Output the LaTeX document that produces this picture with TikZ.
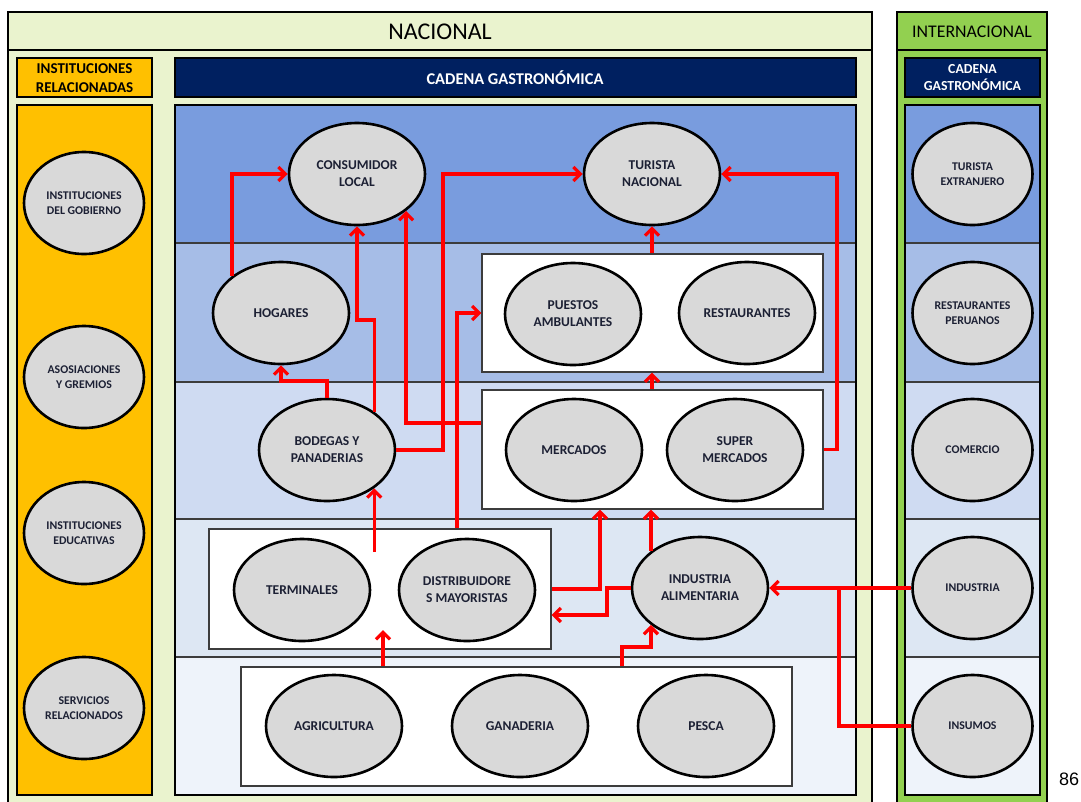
\documentclass[tikz,border=0pt]{standalone}
\usepackage{fontspec}
\setmainfont{Carlito}
\newfontfamily\arialf{Liberation Sans}
\usetikzlibrary{shapes.geometric,arrows.meta}
\definecolor{lgreen}{RGB}{234,243,206}
\definecolor{igreen}{RGB}{146,208,80}
\definecolor{orangec}{RGB}{255,192,0}
\definecolor{navy}{RGB}{0,32,96}
\definecolor{bandA}{RGB}{121,156,222}
\definecolor{bandB}{RGB}{166,189,231}
\definecolor{bandC}{RGB}{207,219,242}
\definecolor{bandD}{RGB}{221,231,243}
\definecolor{bandE}{RGB}{238,243,250}
\definecolor{egray}{RGB}{217,217,217}
\definecolor{etext}{RGB}{28,32,52}
\definecolor{boxline}{RGB}{60,60,60}
\definecolor{arrowred}{RGB}{255,0,0}
\begin{document}
\begin{tikzpicture}[x=1pt,y=-1pt,
  ell/.style={ellipse, draw=black, line width=2.6pt, fill=egray, minimum width=136pt, minimum height=102pt, inner sep=0pt, align=center, text=etext, font=\fontsize{13.5}{17}\selectfont\bfseries},
  sell/.style={ell, minimum width=120pt, minimum height=102pt, font=\fontsize{11.8}{15.5}\selectfont\bfseries},
  wbox/.style={draw=boxline, line width=1.4pt, fill=white, inner sep=0pt},
  flow/.style={draw=arrowred, line width=3.2pt, -{Straight Barb[length=7pt,width=14pt]}},
  link/.style={draw=arrowred, line width=3.2pt},
  frame/.style={draw=black, line width=2pt},
  sep/.style={draw=boxline, line width=1.4pt}]
\useasboundingbox (0,0) rectangle (1081,801);
\fill[white] (0,0) rectangle (1081,801);

% NACIONAL frame
\draw[frame, fill=lgreen] (8,12) rectangle (872,830);
\draw[frame] (8,50) -- (872,50);
\node[font=\fontsize{24}{28}\selectfont, text=black] (nac) at (440,32) {NACIONAL};

% INTERNACIONAL frame
\draw[frame, fill=igreen] (897,12) rectangle (1047,830);
\draw[frame] (897,50) -- (1047,50);
\node[font=\fontsize{17.8}{20}\selectfont, text=black] (inter) at (972,32) {INTERNACIONAL};

% headers
\draw[frame, fill=orangec] (17,58) rectangle (152,97);
\node[align=center, font=\fontsize{15}{18.5}\selectfont\bfseries, text=black] (instrel) at (84.5,78) {INSTITUCIONES\\RELACIONADAS};
\draw[frame, fill=navy] (175,58) rectangle (856,97);
\node[font=\fontsize{16.4}{18}\selectfont\bfseries, text=white] (cad) at (515,78) {CADENA GASTRONÓMICA};
\draw[frame, fill=navy] (905,58) rectangle (1040,97);
\node[align=center, font=\fontsize{13.8}{17}\selectfont\bfseries, text=white] (cadi) at (972.5,78) {CADENA\\GASTRONÓMICA};

% orange column
\draw[frame, fill=orangec] (17,105) rectangle (152,795);

% bands
\foreach \xa/\xb in {175/856, 905/1040}{
  \fill[bandA] (\xa,105) rectangle (\xb,243);
  \fill[bandB] (\xa,243) rectangle (\xb,382);
  \fill[bandC] (\xa,382) rectangle (\xb,519);
  \fill[bandD] (\xa,519) rectangle (\xb,657);
  \fill[bandE] (\xa,657) rectangle (\xb,795);
  \foreach \yy in {243,382,519,657}{ \draw[sep] (\xa,\yy) -- (\xb,\yy); }
  \draw[frame, line width=1.6pt] (\xa,105) rectangle (\xb,795);
}

% white boxes
\node[wbox, minimum width=341pt, minimum height=118pt] (pbox) at (652.5,313) {};
\node[wbox, minimum width=341pt, minimum height=119pt] (mbox) at (652.5,449.5) {};
\node[wbox, minimum width=342pt, minimum height=120pt] (tbox) at (380,589) {};
\node[wbox, minimum width=551pt, minimum height=119pt] (abox) at (516.5,726.5) {};

% ellipses - national chain
\node[ell] (cons) at (357,174) {CONSUMIDOR\\LOCAL};
\node[ell] (tn) at (652,174) {TURISTA\\NACIONAL};
\node[ell] (hog) at (281,313) {HOGARES};
\node[ell] (pue) at (573,314) {PUESTOS\\AMBULANTES};
\node[ell] (res) at (747,313) {RESTAURANTES};
\node[ell] (bod) at (327,450) {BODEGAS Y\\PANADERIAS};
\node[ell] (mer) at (574,450) {MERCADOS};
\node[ell] (sup) at (735,450) {SUPER\\MERCADOS};
\node[ell] (ter) at (302,590) {TERMINALES};
\node[ell] (dis) at (467,590) {DISTRIBUIDORE\\S MAYORISTAS};
\node[ell] (ind) at (700,588) {INDUSTRIA\\ALIMENTARIA};
\node[ell] (agr) at (334,726) {AGRICULTURA};
\node[ell] (gan) at (520,726) {GANADERIA};
\node[ell] (pes) at (706,726) {PESCA};

% left column
\node[sell] (ig) at (84,203) {INSTITUCIONES\\DEL GOBIERNO};
\node[sell] (ag) at (84,377) {ASOSIACIONES\\Y GREMIOS};
\node[sell] (ie) at (84,533) {INSTITUCIONES\\EDUCATIVAS};
\node[sell] (sr) at (84,708) {SERVICIOS\\RELACIONADOS};

% right column
\node[sell] (te) at (972.5,174) {TURISTA\\EXTRANJERO};
\node[sell] (rp) at (972.5,313) {RESTAURANTES\\PERUANOS};
\node[sell] (co) at (972.5,450) {COMERCIO};
\node[sell] (inI) at (972.5,588) {INDUSTRIA};
\node[sell] (isI) at (972.5,726) {INSUMOS};

% connectors
\coordinate (t11) at (383,630);
\draw[flow] (hog.143) |- (cons.west);
\draw[flow] (bod.39) -- (bod.39 |- 0,320) -| (cons.south);
\draw[flow] (bod.north) -- (bod.north |- 0,381) -| (hog.south);
\draw[flow] (mbox.west |- 0,423) -| (cons.-37);
\draw[flow] (bod.east) -- (bod.east -| 443,0) |- (tn.west);
\draw[flow] (tbox.north -| 457,0) |- (pbox.west);
\draw[flow] (mbox.north -| 652,0) -- (pbox.south -| 652,0);
\draw[flow] (pbox.north -| tn.south) -- (tn.south);
\draw[flow] (mbox.east) -- (mbox.east -| 837,0) |- (tn.east);
\draw[flow] (bod.-39 |- 0,552) -- (bod.-39);
\draw[flow] (abox.north -| t11) -- (t11);
\draw[flow] (tbox.east) -| (mbox.south -| 600,0);
\draw[flow] (ind.west) -- (ind.west -| 607,0) |- (tbox.east |- 0,615);
\draw[flow] (ind.143) -- (ind.143 |- mbox.south);
\draw[flow] (abox.north -| 622,0) |- (ind.-143 |- 0,647) -- (ind.-143);
\draw[flow] (inI.west) -- (ind.east);
\draw[link] (isI.west) -| (inI.west -| 839,0);

% page number
\node[font=\fontsize{18}{20}\selectfont\arialf, anchor=west, inner sep=0pt] (pg) at (1059,779) {86};
\end{tikzpicture}
\end{document}
